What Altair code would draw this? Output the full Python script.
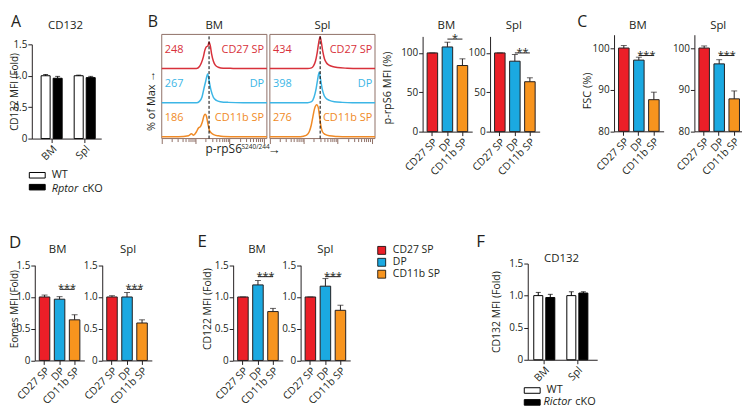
import math
import altair as alt
import pandas as pd

FONT = "Open Sans"
INK = "#231f20"
BOX = "#8f6f66"
W, H = 740, 400


def X(p):
    return p - 8


def Y(p):
    return p - 8


POPS = ["CD27 SP", "DP", "CD11b SP"]
POP_COLORS = ["#eb1f28", "#1ba9e1", "#f7941e"]
HIST_COLORS = ["#d8313b", "#3cb6e6", "#f08a26"]
TISSUES = ["BM", "Spl"]
GENOS = ["WT", "cKO"]

# ---------------- data ----------------
# A: CD132 MFI (fold), WT vs Rptor cKO
a_wt_mean = [1.00, 1.00]
a_wt_sem = [0.02, 0.01]
a_ko_mean = [0.96, 0.97]
a_ko_sem = [0.03, 0.02]

# B histograms (log10 intensity, % of max heights)
bm_red_u = [1.0, 1.79, 2.024, 2.112, 2.17, 2.229, 2.272, 2.316, 2.36, 2.395, 2.433, 2.471, 2.521, 2.579, 2.667, 2.814, 3.106, 3.545, 4.1]
bm_red_h = [0, 0, 0, 6, 17, 35, 54, 64, 66, 77, 66, 42, 22, 10, 4, 1, 0.5, 0, 0]
bm_blue_u = [1.0, 2.024, 2.112, 2.185, 2.243, 2.296, 2.354, 2.404, 2.454, 2.521, 2.609, 2.726, 2.96, 3.399, 4.1]
bm_blue_h = [0, 0, 4, 16, 41, 63, 84, 60, 36, 16, 7, 3, 1, 0, 0]
bm_orange_u = [1.0, 1.497, 1.79, 1.878, 1.936, 2.024, 2.082, 2.141, 2.199, 2.243, 2.278, 2.316, 2.36, 2.404, 2.463, 2.55, 2.667, 2.814, 3.252, 4.1]
bm_orange_h = [0, 0, 3, 9, 5, 15, 26, 30, 44, 61, 66, 61, 39, 19, 11, 6, 3, 1, 0, 0]
spl_red_u = [1.0, 2.112, 2.229, 2.287, 2.346, 2.395, 2.442, 2.483, 2.521, 2.559, 2.609, 2.667, 2.746, 2.843, 2.989, 3.282, 3.574, 4.1]
spl_red_h = [0, 0, 2, 8, 22, 46, 77, 93, 75, 51, 29, 17, 10, 6, 3, 1, 0, 0]
spl_blue_u = [1.0, 2.112, 2.229, 2.302, 2.354, 2.404, 2.454, 2.492, 2.541, 2.6, 2.667, 2.755, 2.901, 3.135, 3.428, 4.1]
spl_blue_h = [0, 0, 3, 16, 36, 65, 89, 70, 41, 21, 12, 7, 3, 1, 0, 0]
spl_orange_u = [1.0, 1.819, 1.995, 2.082, 2.161, 2.22, 2.267, 2.316, 2.384, 2.424, 2.463, 2.501, 2.55, 2.629, 2.755, 2.989, 3.282, 4.1]
spl_orange_h = [0, 0, 2, 5, 15, 34, 58, 82, 94, 87, 61, 34, 15, 7, 3, 1, 0, 0]
bm_mfi = ["248", "267", "186"]
spl_mfi = ["434", "398", "276"]
bm_dash = 2.395
spl_dash = 2.483

# B bars: p-rpS6 MFI (%)
b_bm_mean = [100, 107.6, 84.0]
b_bm_sem = [0, 6.0, 8.5]
b_spl_mean = [100, 89.5, 63.4]
b_spl_sem = [0, 8.5, 5.0]
# C: FSC (%)
c_bm_mean = [100, 97.1, 87.6]
c_bm_sem = [0.6, 0.7, 1.8]
c_spl_mean = [100, 96.2, 87.8]
c_spl_sem = [0.5, 1.0, 1.9]
# D: Eomes MFI (fold)
d_bm_mean = [1.00, 0.965, 0.64]
d_bm_sem = [0.03, 0.04, 0.08]
d_spl_mean = [1.00, 1.00, 0.59]
d_spl_sem = [0.02, 0.07, 0.05]
# E: CD122 MFI (fold)
e_bm_mean = [1.00, 1.19, 0.77]
e_bm_sem = [0.0, 0.07, 0.05]
e_spl_mean = [1.00, 1.17, 0.79]
e_spl_sem = [0.0, 0.12, 0.08]
# F: CD132 MFI (fold), WT vs Rictor cKO
f_wt_mean = [1.00, 1.00]
f_wt_sem = [0.05, 0.06]
f_ko_mean = [0.97, 1.04]
f_ko_sem = [0.05, 0.02]

HIST_TICKS = [round(math.log10(m * 10 ** k), 4) for k in (1, 2, 3) for m in range(1, 10)] + [4.0]
FOLD_EXPR = "datum.value == 0 ? '0' : format(datum.value, '.1f')"


def y_axis(ax, values, expr=None):
    kw = dict(orient="left", offset=-X(ax), values=values, tickSize=4, tickWidth=1,
              tickColor=INK, domainColor=INK, domainWidth=1, labelColor=INK,
              labelFont=FONT, labelFontSize=10, labelPadding=1, grid=False, title=None)
    if expr:
        kw["labelExpr"] = expr
    return alt.Axis(**kw)


def x_axis(y0):
    return alt.Axis(orient="bottom", offset=Y(y0) - H, tickSize=4, tickWidth=1,
                    tickColor=INK, domainColor=INK, domainWidth=1, labelColor=INK,
                    labelFont=FONT, labelFontSize=10.5, labelAngle=315, labelAlign="right",
                    labelBaseline="top", labelPadding=1, grid=False, title=None)


def pop_panel(means, sems, ax, y0, yt, dom, ticks, expr, sig, sig_level, legend=None):
    df = pd.DataFrame({"pop": POPS, "mean": means, "sem": sems})
    df["top"] = df["mean"] + df["sem"]
    df["base"] = dom[0]
    xsc = alt.Scale(domain=POPS, range=[X(ax), X(ax) + 50], paddingInner=0.3, paddingOuter=0.3)
    ysc = alt.Scale(domain=dom, range=[Y(y0), Y(yt)], nice=False, zero=False)
    xa = x_axis(y0)
    ya = y_axis(ax, ticks, expr)

    def xe(f):
        return alt.X(f, type="nominal", scale=xsc, axis=xa, sort=POPS)

    def ye(f):
        return alt.Y(f, type="quantitative", scale=ysc, axis=ya)

    fill = alt.Fill("pop:N", scale=alt.Scale(domain=POPS, range=POP_COLORS), legend=legend)
    base = alt.Chart(df)
    bars = base.mark_bar(stroke=INK, strokeWidth=1).encode(x=xe("pop"), y=ye("mean"), y2=alt.Y2("base"), fill=fill)
    err = base.mark_rule(color=INK, strokeWidth=1).encode(x=xe("pop"), y=ye("mean"), y2=alt.Y2("top"))
    cap = base.mark_tick(color=INK, thickness=1, size=6).encode(x=xe("pop"), y=ye("top"))
    sdf = pd.DataFrame({"a": ["DP"], "b": ["CD11b SP"], "lvl": [sig_level], "txt": [sig]})
    srule = alt.Chart(sdf).mark_rule(color=INK, strokeWidth=1).encode(x=xe("a"), x2=alt.X2("b"), y=ye("lvl"))
    stext = alt.Chart(sdf).mark_text(font=FONT, fontSize=11, dx=7.6, dy=3, baseline="alphabetic", color=INK).encode(
        x=xe("a"), y=ye("lvl"), text="txt:N")
    return alt.layer(bars, err, cap, srule, stext)


def geno_panel(wt_mean, wt_sem, ko_mean, ko_sem, ax, xend, align, y0, yt, legend):
    rows = []
    for i, t in enumerate(TISSUES):
        rows.append({"tissue": t, "geno": "WT", "mean": wt_mean[i], "sem": wt_sem[i]})
        rows.append({"tissue": t, "geno": "cKO", "mean": ko_mean[i], "sem": ko_sem[i]})
    df = pd.DataFrame(rows)
    df["top"] = df["mean"] + df["sem"]
    df["base"] = 0.0
    xsc = alt.Scale(domain=TISSUES, range=[X(ax), X(xend)], paddingInner=0, paddingOuter=0.05, align=align)
    ysc = alt.Scale(domain=[0, 1.5], range=[Y(y0), Y(yt)], nice=False, zero=False)
    xa = x_axis(y0)
    ya = y_axis(ax, [0, 0.5, 1.0, 1.5], FOLD_EXPR)
    xo = alt.XOffset("geno:N", scale=alt.Scale(domain=GENOS, paddingInner=0.25, paddingOuter=0.5))

    def xe(f):
        return alt.X(f, type="nominal", scale=xsc, axis=xa, sort=TISSUES)

    def ye(f):
        return alt.Y(f, type="quantitative", scale=ysc, axis=ya)

    fill = alt.Fill("geno:N", scale=alt.Scale(domain=GENOS, range=["white", "black"]), legend=legend)
    base = alt.Chart(df)
    bars = base.mark_bar(stroke="black", strokeWidth=1).encode(x=xe("tissue"), xOffset=xo, y=ye("mean"), y2=alt.Y2("base"), fill=fill)
    err = base.mark_rule(color="black", strokeWidth=1).encode(x=xe("tissue"), xOffset=xo, y=ye("mean"), y2=alt.Y2("top"))
    cap = base.mark_tick(color="black", thickness=1, size=5).encode(x=xe("tissue"), xOffset=xo, y=ye("top"))
    return alt.layer(bars, err, cap)


def geno_legend(lx, ly):
    return alt.Legend(orient="none", legendX=lx, legendY=ly, title=None, padding=0,
                      symbolType="M-2,-0.7H2V0.7H-2Z", symbolSize=64, symbolStrokeColor="black",
                      symbolStrokeWidth=1, symbolOpacity=1, labelFont=FONT, labelFontSize=11,
                      labelColor=INK, labelOffset=9, rowPadding=0,
                      labelExpr="datum.label == 'WT' ? 'WT' : ''")


def hist_panel(us, hs, mfis, x0, x1, dash_u):
    rows = []
    for i, pop in enumerate(POPS):
        for u, h in zip(us[i], hs[i]):
            rows.append({"pop": pop, "u": u, "h": h, "row": 2 - i})
    df = pd.DataFrame(rows)
    xsc = alt.Scale(domain=[1.0, 4.1], range=[X(x0), X(x1)], nice=False, zero=False)
    ysc = alt.Scale(domain=[-5, 300], range=[Y(138), Y(33)], nice=False, zero=False)
    xa = alt.Axis(orient="bottom", offset=Y(138) - H, values=HIST_TICKS, labels=False, domain=False,
                  tickSize={"condition": {"test": "abs(datum.value - round(datum.value)) < 0.001", "value": 5}, "value": 3},
                  tickColor=BOX, tickWidth=1, grid=False, title=None)

    def xe(f):
        return alt.X(f, type="quantitative", scale=xsc, axis=xa)

    def ye(f):
        return alt.Y(f, type="quantitative", scale=ysc, axis=None)

    col = alt.Color("pop:N", scale=alt.Scale(domain=POPS, range=HIST_COLORS), legend=None)
    box = alt.Chart(pd.DataFrame({"u0": [1.0], "u1": [4.1], "y0": [-5], "y1": [300]})).mark_rect(
        fill="white", stroke=BOX, strokeWidth=1).encode(x=xe("u0"), x2=alt.X2("u1"), y=ye("y0"), y2=alt.Y2("y1"))
    lines = alt.Chart(df).transform_calculate(yy="datum.h + datum.row * 100").mark_line(
        interpolate="monotone", strokeWidth=1.5).encode(x=xe("u"), y=ye("yy"), color=col)
    dash = alt.Chart(pd.DataFrame({"u": [dash_u], "y0": [-5], "y1": [300]})).mark_rule(
        color="black", strokeWidth=1, strokeDash=[3, 2]).encode(x=xe("u"), y=ye("y0"), y2=alt.Y2("y1"))
    tdf = pd.DataFrame({"pop": POPS, "mfi": mfis, "row": [2, 1, 0]})
    tdf["yy"] = tdf["row"] * 100 + 55
    tdf["ul"] = 1.09
    tdf["ur"] = 4.02
    nums = alt.Chart(tdf).mark_text(font=FONT, fontSize=11, align="left", baseline="middle").encode(
        x=xe("ul"), y=ye("yy"), text="mfi:N", color=col)
    names = alt.Chart(tdf).mark_text(font=FONT, fontSize=11, align="right", baseline="middle").encode(
        x=xe("ur"), y=ye("yy"), text="pop:N", color=col)
    return alt.layer(box, lines, dash, nums, names)


def label(text, xp, yp, size=11.5, angle=0, align="center", baseline="alphabetic", style="normal", color=INK):
    kw = dict(font=FONT, fontSize=size, align=align, baseline=baseline, color=color, fontStyle=style)
    if angle:
        kw["angle"] = angle
    return alt.Chart(pd.DataFrame({"t": [text]})).mark_text(**kw).encode(
        text="t:N", x=alt.value(X(xp)), y=alt.value(Y(yp)))


pop_legend = alt.Legend(orient="none", legendX=X(380) - 0.5, legendY=Y(251) - 5.5, title=None, padding=0,
                        symbolType="square", symbolSize=64, symbolStrokeColor="black", symbolStrokeWidth=0.8,
                        symbolOpacity=1, labelFont=FONT, labelFontSize=10.5, labelColor=INK, labelOffset=6,
                        rowPadding=0)

layers = [
    # A
    geno_panel(a_wt_mean, a_wt_sem, a_ko_mean, a_ko_sem, 32, 102, 1, 138, 43, geno_legend(X(28) + 4, Y(175) - 5.5)),
    # B histograms
    hist_panel([bm_red_u, bm_blue_u, bm_orange_u], [bm_red_h, bm_blue_h, bm_orange_h], bm_mfi, 163, 269, bm_dash),
    hist_panel([spl_red_u, spl_blue_u, spl_orange_u], [spl_red_h, spl_blue_h, spl_orange_h], spl_mfi, 272, 378, spl_dash),
    # B bars
    pop_panel(b_bm_mean, b_bm_sem, 426, 131, 35, [0, 121], [0, 50, 100], None, "*", 117.6),
    pop_panel(b_spl_mean, b_spl_sem, 494, 131, 35, [0, 121], [0, 50, 100], None, "**", 100),
    # C
    pop_panel(c_bm_mean, c_bm_sem, 619, 130.7, 33.3, [80, 103.2], [80, 90, 100], None, "***", 98.2),
    pop_panel(c_spl_mean, c_spl_sem, 700, 130.7, 33.3, [80, 103.2], [80, 90, 100], None, "***", 98.2),
    # D
    pop_panel(d_bm_mean, d_bm_sem, 35, 361.7, 265.7, [0, 1.5], [0, 0.5, 1.0, 1.5], FOLD_EXPR, "***", 1.12),
    pop_panel(d_spl_mean, d_spl_sem, 103, 361.7, 265.7, [0, 1.5], [0, 0.5, 1.0, 1.5], FOLD_EXPR, "***", 1.12),
    # E
    pop_panel(e_bm_mean, e_bm_sem, 235, 361.7, 265.7, [0, 1.5], [0, 0.5, 1.0, 1.5], FOLD_EXPR, "***", 1.32),
    pop_panel(e_spl_mean, e_spl_sem, 303, 361.7, 265.7, [0, 1.5], [0, 0.5, 1.0, 1.5], FOLD_EXPR, "***", 1.32, pop_legend),
    # F
    geno_panel(f_wt_mean, f_wt_sem, f_ko_mean, f_ko_sem, 532, 602, 0, 361, 264, geno_legend(X(527) + 4, Y(392) - 5.5)),
    # panel letters
    label("A", 11, 25.5, size=16, align="left"),
    label("B", 149, 25.5, size=16, align="left"),
    label("C", 582, 25.5, size=16, align="left"),
    label("D", 9, 248, size=17, align="left"),
    label("E", 199, 247.5, size=17, align="left"),
    label("F", 480, 247, size=17, align="left"),
    # titles
    label("CD132", 66, 28),
    label("BM", 216, 28),
    label("Spl", 325, 28),
    label("BM", 450, 28),
    label("Spl", 518, 28),
    label("BM", 643, 28),
    label("Spl", 724, 28),
    label("BM", 58, 253),
    label("Spl", 129, 253),
    label("BM", 259, 253),
    label("Spl", 328, 253),
    label("CD132", 566, 262),
    # y titles
    label("CD132 MFI (Fold)", 15, 91, size=10, angle=270, baseline="middle"),
    label("% of Max \u2192", 153, 100, size=11, angle=270, baseline="middle"),
    label("p-rpS6 MFI (%)", 391, 87, size=11, angle=270, baseline="middle"),
    label("FSC (%)", 593, 90, size=11, angle=270, baseline="middle"),
    label("Eomes MFI (Fold)", 15, 310, size=10, angle=270, baseline="middle"),
    label("CD122 MFI (Fold)", 210, 310, size=10.5, angle=270, baseline="middle"),
    label("CD132 MFI (Fold)", 501, 313, size=10.5, angle=270, baseline="middle"),
    # histogram x title
    label("p-rpS6", 207, 153, size=12, align="left"),
    label("S240/244", 243.5, 148.5, size=6.5, align="left"),
    label("\u2192", 270, 154, size=13, align="left"),
    # legend labels with italic gene names
    label("Rptor", 52, 191.5, size=11, align="left", style="italic"),
    label("cKO", 83, 191.5, size=11, align="left"),
    label("Rictor", 548, 407, size=11, align="left", style="italic"),
    label("cKO", 580, 407, size=11, align="left"),
]

chart = alt.layer(*layers).resolve_scale(
    x="independent", y="independent", xOffset="independent", fill="independent", color="independent"
).resolve_axis(x="independent", y="independent").resolve_legend(
    fill="independent", color="independent"
).properties(
    width=W, height=H, padding=0, autosize=alt.AutoSizeParams(type="none")
).configure_view(stroke="transparent")

chart.save("out.html", embed_options={"renderer": "svg", "actions": False})
